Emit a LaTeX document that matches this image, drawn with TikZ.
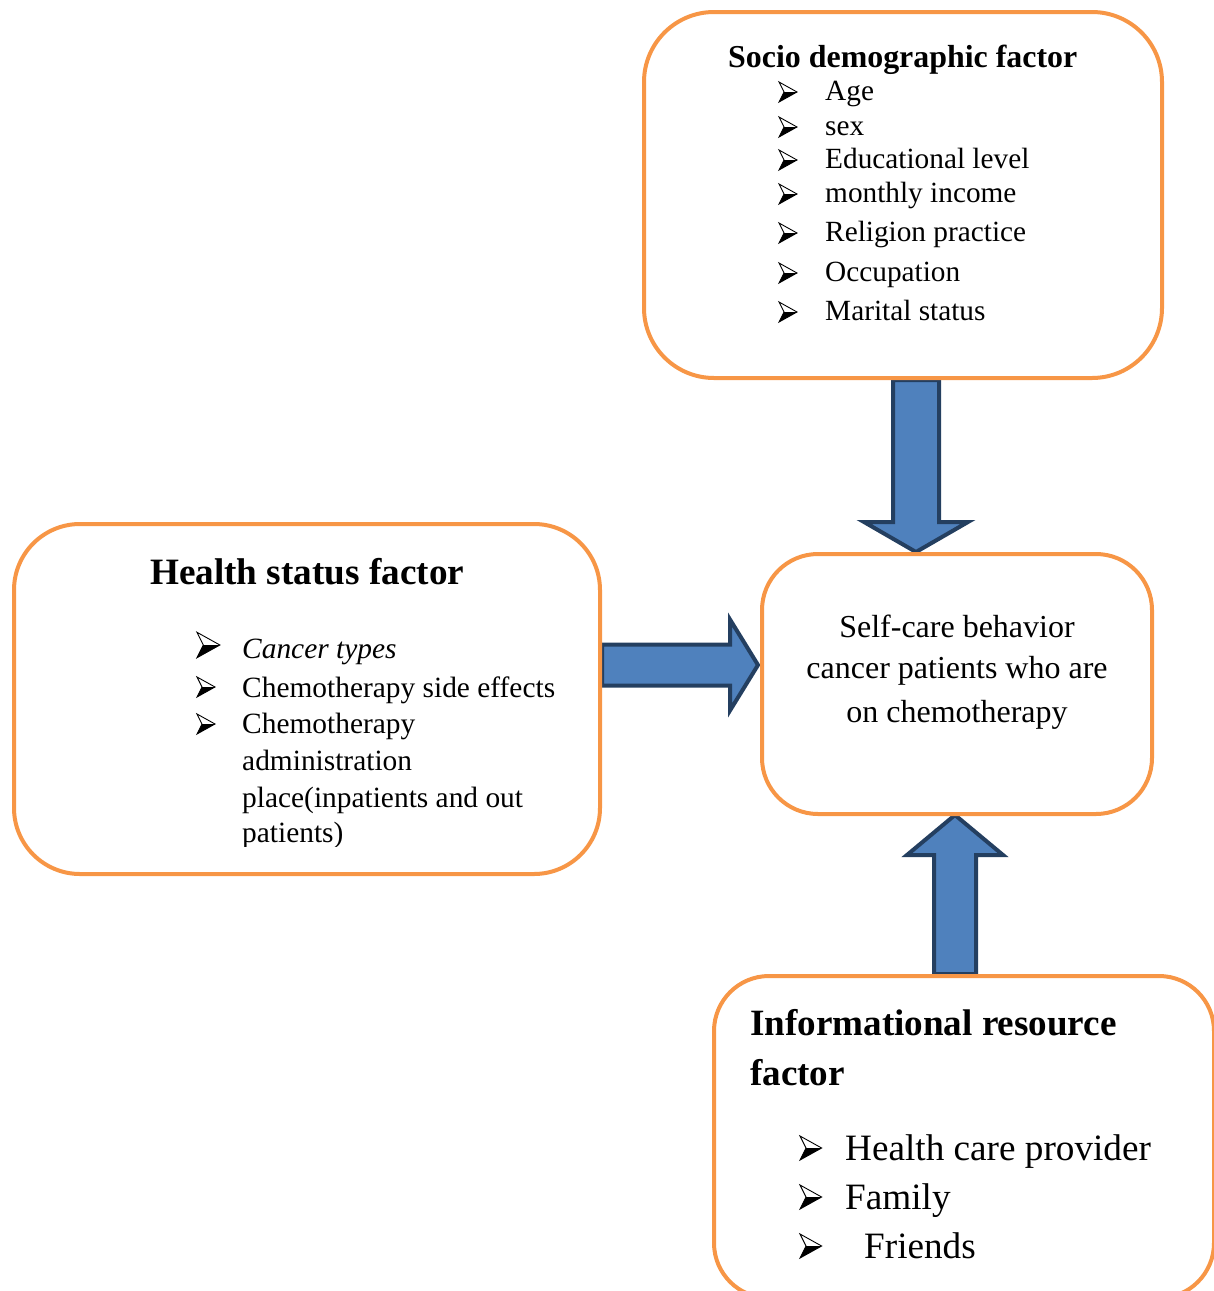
\documentclass[tikz,border=0pt]{standalone}
\usepackage{fontspec}
\setmainfont{Liberation Serif}
\usetikzlibrary{calc}
\pgfdeclarelayer{background}
\pgfsetlayers{background,main}
\definecolor{boxOrange}{HTML}{F79646}
\definecolor{arrowBlue}{HTML}{4F81BD}
\definecolor{arrowDark}{HTML}{243F60}
\tikzset{
  factorbox/.style={draw=boxOrange, line width=4pt, fill=white, rectangle, inner sep=0pt},
  blockarrow/.style={draw=arrowDark, fill=arrowBlue, line width=4pt, line join=miter},
  arrowbullet/.pic={
    \draw[black, line width=0.9pt, line join=miter, fill=white] (0,-10) -- (18,0) -- (0,10) -- (5,0) -- cycle;
    \fill[black] (5,0) -- (18,0) -- (0,10) -- cycle;
  },
  itemtext/.style={anchor=base west, inner sep=0pt, font=\fontsize{#1}{#1}\selectfont},
  itemtext/.default=29.3,
  headtext/.style={anchor=base west, inner sep=0pt, font=\fontsize{#1}{#1}\selectfont\bfseries},
}
\begin{document}
\begin{tikzpicture}[x=1pt, y=-1pt]
        \useasboundingbox (0,0) rectangle (1214,1291);
        \begin{scope}
        \clip (0,0) rectangle (1214,1291);
        % boxes
        \node[factorbox, rounded corners=70pt, minimum width=518pt, minimum height=366pt] (socio) at (903,195) {};
        \node[factorbox, rounded corners=66pt, minimum width=586pt, minimum height=350pt] (health) at (307,699) {};
        \node[factorbox, rounded corners=56pt, minimum width=390pt, minimum height=260pt] (selfcare) at (957,684) {};
        \node[factorbox, rounded corners=55pt, minimum width=500pt, minimum height=322pt] (info) at (964,1137) {};
        \end{scope}
        % socio demographic factor
        \node[headtext=31.9] (socio-head) at (728,67) {Socio demographic factor};
        \foreach \txt/\yy [count=\i] in {Age/100, sex/135, Educational level/168, monthly income/202, Religion practice/241, Occupation/281, Marital status/320} {
            \pic (socio-b\i) at (779,\yy-8) {arrowbullet};
            \node[itemtext] (socio-t\i) at (825,\yy) {\txt};
        }
        % health status factor
        \node[headtext=37.2] (health-head) at (150,584) {Health status factor};
        \pic[scale=1.27] (health-b1) at (197,645) {arrowbullet};
        \node[itemtext=29.4] (health-t1) at (242,658) {\itshape Cancer types};
        \pic (health-b2) at (197,687) {arrowbullet};
        \node[itemtext=29.4] (health-t2) at (242,697) {Chemotherapy side effects};
        \pic (health-b3) at (197,724) {arrowbullet};
        \node[itemtext=29.4] (health-t3) at (242,733) {Chemotherapy};
        \node[itemtext=29.4] (health-t4) at (242,770) {administration};
        \node[itemtext=29.4] (health-t5) at (242,807) {place(inpatients and out};
        \begin{scope}
        \clip (0,0) rectangle (1214,846);
        \node[itemtext=29.4] (health-t6) at (242,842) {patients)};
        \end{scope}
        % self-care behavior
        \foreach \txt/\yy [count=\i] in {Self-care behavior/637, cancer patients who are/678, on chemotherapy/722} {
            \node[itemtext=32, anchor=base] (self-t\i) at (957,\yy) {\txt};
        }
        % informational resource factor
        \node[headtext=37.1] (info-head1) at (750,1035) {Informational resource};
        \node[headtext=37.1] (info-head2) at (750,1085) {factor};
        \foreach \txt/\xx/\yy [count=\i] in {Health care provider/845/1160, Family/845/1209, Friends/864/1258} {
            \pic[scale=1.2] (info-b\i) at (800,\yy-12) {arrowbullet};
            \node[itemtext=37.2] (info-t\i) at (\xx,\yy) {\txt};
        }
        % block arrows
        \coordinate (d1) at ($(socio.south)+(13,0)$);
        \coordinate (d2) at ($(selfcare.north)+(-41,0)$);
        \coordinate (r1) at ($(health.east)+(0,-34)$);
        \coordinate (r2) at ($(selfcare.west)+(-2,-19)$);
        \coordinate (u1) at ($(info.north)+(-9,0)$);
        \coordinate (u2) at ($(selfcare.south)+(-2,-1)$);
        \begin{pgfonlayer}{background}
        \draw[blockarrow] ($(d1)+(-23,0)$) -- ($(d2)+(-23,-30)$) -- ($(d2)+(-52,-30)$) -- (d2)
            -- ($(d2)+(52,-30)$) -- ($(d2)+(23,-30)$) -- ($(d1)+(23,0)$) -- cycle;
        \draw[blockarrow] ($(r1)+(0,-20.5)$) -- ($(r2)+(-28,-20.5)$) -- ($(r2)+(-28,-45.5)$) -- (r2)
            -- ($(r2)+(-28,45.5)$) -- ($(r2)+(-28,20.5)$) -- ($(r1)+(0,20.5)$) -- cycle;
        \draw[blockarrow] ($(u1)+(-21,0)$) -- ($(u2)+(-21,40)$) -- ($(u2)+(-48,40)$) -- (u2)
            -- ($(u2)+(48,40)$) -- ($(u2)+(21,40)$) -- ($(u1)+(21,0)$) -- cycle;
        \end{pgfonlayer}
    \end{tikzpicture}
\end{document}
